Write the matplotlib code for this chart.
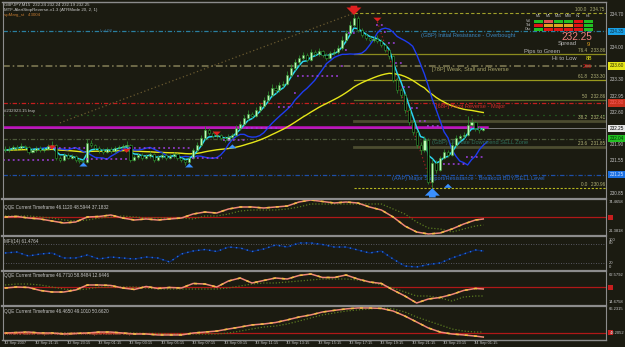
import numpy as np
import matplotlib
matplotlib.use('Agg')
import matplotlib.pyplot as plt
from matplotlib.patches import Rectangle
from matplotlib.lines import Line2D
import matplotlib.transforms as mtrans

# ---------------- data ----------------
first_open = 231.80
closes = [231.78, 231.81, 231.85, 231.83, 231.87, 231.85, 231.74, 231.78, 231.83, 231.78,
          231.81, 231.87, 231.89, 231.61, 231.57, 231.68, 231.61, 231.65, 231.57, 231.55,
          231.53, 231.94, 231.89, 231.83, 231.78, 231.74, 231.81, 231.76, 231.83, 231.85,
          231.87, 231.89, 231.57, 231.63, 231.68, 231.61, 231.65, 231.70, 231.57, 231.63,
          231.68, 231.61, 231.65, 231.70, 231.61, 231.57, 231.53, 231.61, 231.78, 231.89,
          232.04, 232.22, 232.15, 232.09, 232.11, 232.04, 232.00, 232.07, 232.11, 232.26,
          232.35, 232.48, 232.56, 232.52, 232.65, 232.73, 232.86, 232.97, 233.12, 233.08,
          233.19, 233.21, 233.40, 233.56, 233.68, 233.77, 233.84, 233.73, 233.90, 233.86,
          233.92, 233.84, 233.77, 233.88, 233.90, 233.99, 234.16, 234.31, 234.48, 234.64,
          234.38, 234.27, 234.20, 234.16, 234.18, 234.14, 234.05, 233.94, 233.81, 233.30,
          233.08, 232.97, 232.65, 232.39, 232.17, 231.89, 231.78, 232.00, 231.10, 231.50,
          231.35, 231.61, 231.74, 231.68, 231.89, 232.04, 232.09, 232.11, 232.32, 232.39,
          232.26, 232.22, 232.25]
highs = [231.86, 231.88, 231.90, 231.89, 231.93, 231.90, 231.88, 231.82, 231.88, 231.86,
         231.85, 231.92, 231.98, 231.92, 231.66, 231.72, 231.71, 231.69, 231.68, 231.61,
         231.60, 232.02, 231.99, 231.92, 231.86, 231.82, 231.85, 231.84, 231.88, 231.90,
         231.92, 231.97, 231.91, 231.68, 231.73, 231.71, 231.70, 231.76, 231.73, 231.67,
         231.74, 231.71, 231.69, 231.75, 231.72, 231.64, 231.60, 231.66, 231.83, 231.95,
         232.10, 232.30, 232.27, 232.19, 232.18, 232.14, 232.08, 232.12, 232.15, 232.32,
         232.42, 232.55, 232.64, 232.61, 232.72, 232.80, 232.93, 233.05, 233.20, 233.18,
         233.26, 233.28, 233.48, 233.64, 233.76, 233.84, 233.91, 233.88, 233.96, 233.95,
         233.98, 233.95, 233.87, 233.93, 233.96, 234.06, 234.24, 234.38, 234.56, 234.75,
         234.67, 234.42, 234.31, 234.25, 234.24, 234.26, 234.18, 234.08, 233.97, 233.84,
         233.35, 233.13, 233.01, 232.70, 232.44, 232.22, 231.95, 232.08, 232.04, 231.58,
         231.56, 231.66, 231.80, 231.78, 231.95, 232.10, 232.14, 232.17, 232.52, 232.47,
         232.42, 232.30, 232.26]
lows = [231.74, 231.75, 231.78, 231.79, 231.80, 231.80, 231.70, 231.71, 231.75, 231.74,
        231.75, 231.78, 231.84, 231.57, 231.52, 231.55, 231.58, 231.58, 231.53, 231.50,
        231.46, 231.51, 231.84, 231.79, 231.72, 231.69, 231.71, 231.72, 231.73, 231.80,
        231.82, 231.84, 231.52, 231.54, 231.60, 231.57, 231.58, 231.62, 231.52, 231.54,
        231.60, 231.57, 231.58, 231.62, 231.56, 231.52, 231.47, 231.49, 231.59, 231.75,
        231.86, 232.01, 232.10, 232.04, 232.05, 232.00, 231.95, 231.97, 232.02, 232.08,
        232.22, 232.31, 232.44, 232.47, 232.49, 232.61, 232.70, 232.82, 232.93, 233.02,
        233.04, 233.14, 233.18, 233.36, 233.52, 233.63, 233.72, 233.68, 233.70, 233.81,
        233.82, 233.79, 233.72, 233.74, 233.84, 233.86, 233.95, 234.12, 234.27, 234.44,
        234.33, 234.22, 234.15, 234.11, 234.12, 234.09, 234.00, 233.89, 233.76, 233.25,
        233.02, 232.90, 232.58, 232.32, 232.10, 231.82, 231.70, 231.74, 231.05, 230.96,
        231.28, 231.32, 231.58, 231.63, 231.65, 231.85, 232.00, 232.04, 232.08, 232.28,
        232.20, 232.16, 232.19]

# stop-and-reverse (purple dotted) segments: start bar, end bar, price
sar_start = [0, 13, 21, 32, 48, 56, 62, 70, 74, 75, 86, 87, 88, 95, 97, 98, 100, 102, 104, 106, 108, 112, 118]
sar_end = [12, 20, 31, 47, 55, 61, 69, 73, 74, 85, 86, 87, 89, 96, 97, 99, 101, 103, 105, 107, 111, 117, 122]
sar_price = [231.57, 231.83, 231.60, 231.83, 231.62, 232.00, 232.25, 232.71, 233.01, 233.38, 233.60,
             233.94, 234.31, 234.48, 234.33, 234.10, 233.67, 233.14, 232.70, 232.40, 232.30, 231.48, 231.63]

# horizontal levels
level_prices = [234.35, 233.60, 232.80, 232.55, 232.03, 231.25]
level_colors = ['#2a7fa0', '#6e6a48', '#c41e1e', '#2a8a2a', '#4d5a3a', '#1e4fa8']
level_labels = ['(GBP) Initial Resistance - Overbought', '[78P] Weak, Stall and Reverse',
                '[68P] Pivot Reverse - Major', '', '(GBP) Ultimate Downtrend SELL Zone',
                '(AAP) Major Support/Resistance - Breakout BUY/SELL Level']
level_label_bars = [106.0, 109.0, 110.0, 0, 109.0, 98.8]
level_label_colors = ['#3a86c0', '#a8a46a', '#d42a2a', '', '#2f6e5a', '#2a6ad0']
magenta_price = 232.28
bid_price = 232.25

fib_low, fib_high = 230.96, 234.75
fib_pcts = [0.0, 23.6, 38.2, 50.0, 61.8, 76.4, 100.0]
fib_start_bar = 89

trend1_bars, trend1_prices = [14, 89], [232.37, 234.74]
trend2_bars, trend2_prices = [95, 109], [234.55, 230.98]

arrow_bars = [12, 31, 54, 89, 95, 20, 47, 58, 109, 113]
arrow_prices = [231.83, 231.76, 232.13, 234.80, 234.59, 231.48, 231.46, 231.87, 230.86, 231.02]
arrow_dirs = [-1, -1, -1, -1, -1, 1, 1, 1, 1, 1]
arrow_big = [0, 0, 0, 1, 0, 0, 0, 0, 1, 0]

price_ticks = [234.70, 234.00, 233.30, 232.95, 232.60, 231.90, 231.55, 230.85]
box_prices = [234.35, 233.60, 232.80, 232.25, 232.04, 231.25]
box_texts = ['234.35', '233.60', '232.80', '232.25', '232.04', '231.25']
box_face = ['#19a0e6', '#e6e619', '#c8321e', '#e6e6e6', '#22c022', '#1a6fe0']
box_txt = ['#103040', '#303000', '#ff6060', '#000000', '#003000', '#d0e0ff']

# indicator samples (every 3rd bar)
qbars = list(range(0, 121, 3)) + [122]
qqe1 = [50.0, 50.9, 48.3, 46.6, 43.2, 39.8, 41.5, 50.0, 50.9, 53.4, 48.3, 44.9, 46.6, 44.9,
        46.6, 48.3, 55.1, 58.5, 56.8, 63.6, 67.0, 67.0, 65.3, 67.0, 68.7, 75.5, 78.9, 76.4,
        73.8, 75.5, 73.8, 67.0, 61.9, 50.0, 34.7, 24.5, 21.1, 22.8, 29.6, 38.1, 44.9, 46.6]
qqe1_trail = [51.7, 51.7, 51.7, 50.0, 48.3, 44.9, 43.2, 44.9, 48.3, 50.0, 51.7, 50.0, 48.3,
              48.3, 48.3, 48.3, 46.6, 51.7, 51.7, 55.1, 60.2, 61.9, 61.9, 61.9, 63.6, 67.0,
              72.1, 72.1, 72.1, 72.1, 72.1, 72.1, 72.1, 63.6, 55.1, 41.5, 31.3, 29.6, 24.5,
              29.6, 34.7, 36.4]
mfi = [51.6, 54.7, 42.1, 48.4, 51.6, 35.8, 35.8, 45.3, 32.6, 38.9, 35.8, 32.6, 38.9, 35.8,
       23.2, 48.4, 57.9, 62.6, 56.3, 70.5, 67.4, 56.3, 64.2, 76.8, 70.5, 83.2, 83.2, 78.4,
       70.5, 70.5, 61.1, 51.6, 57.9, 32.6, 10.5, 7.4, 15.3, 20.0, 35.8, 48.4, 61.1, 57.9]
qqe2 = [48.5, 50.0, 49.3, 44.8, 42.5, 42.5, 45.5, 53.0, 53.0, 52.3, 48.5, 46.3, 50.8, 47.8,
        49.3, 48.5, 55.3, 54.5, 50.0, 59.0, 63.5, 56.0, 59.8, 63.5, 62.0, 67.3, 69.5, 64.3,
        64.3, 68.0, 62.0, 57.5, 55.3, 45.5, 36.5, 26.0, 32.0, 34.3, 38.8, 44.8, 47.8, 47.0]
qqe2_trail = [53.0, 54.5, 54.5, 53.0, 50.0, 47.0, 45.5, 47.0, 50.0, 50.0, 50.0, 50.0, 48.5,
              47.0, 47.0, 47.0, 47.0, 47.0, 47.0, 48.5, 51.5, 54.5, 56.0, 56.0, 57.5, 59.0,
              60.5, 62.0, 62.0, 62.0, 60.5, 57.5, 53.0, 48.5, 42.5, 36.5, 36.5, 33.5, 29.0,
              35.0, 36.5, 36.5]
qqe3 = [50.0, 50.3, 50.6, 50.0, 50.0, 49.4, 49.7, 50.0, 50.6, 50.6, 50.0, 49.4, 49.4, 48.8,
        48.8, 48.8, 50.0, 50.6, 51.2, 52.5, 53.7, 55.0, 55.6, 56.5, 58.1, 59.9, 61.2, 63.0,
        64.0, 64.9, 65.5, 65.5, 65.2, 63.6, 60.5, 56.8, 53.1, 50.6, 49.4, 48.8, 48.1, 47.5]
qqe3_trail = [50.3, 50.3, 50.0, 50.0, 50.0, 50.0, 50.0, 50.0, 50.3, 50.3, 50.0, 50.0, 49.7,
              49.7, 49.4, 49.4, 49.4, 49.4, 49.4, 50.0, 51.2, 52.5, 53.7, 54.3, 55.6, 57.4,
              59.3, 61.2, 62.4, 63.6, 64.3, 64.9, 65.5, 64.9, 63.0, 59.9, 57.4, 55.0, 52.5,
              51.2, 50.6, 50.6]

date_labels = ['12 Sep 2007', '12 Sep 21:15', '12 Sep 23:15', '13 Sep 01:15', '13 Sep 03:15',
               '13 Sep 05:15', '13 Sep 07:15', '13 Sep 09:15', '13 Sep 11:15', '13 Sep 13:15',
               '13 Sep 15:15', '13 Sep 17:15', '13 Sep 19:15', '13 Sep 21:15', '13 Sep 23:15',
               '14 Sep 01:15']
date_label_bars = list(range(0, 121, 8))

tf_names = ['M1', 'M5', 'M15', 'M30', 'H1', 'H4']
row_names = ['Vol', 'Trd', 'Osc']
grid_colors = [['#22c022', '#e05050', '#22c022', '#22c022', '#e01414', '#22c022'],
               ['#e01414', '#e0a020', '#e0a020', '#e0a020', '#e01414', '#22c022'],
               ['#22c022', '#e01414', '#e01414', '#e01414', '#e01414', '#22c022']]

# ---------------- helpers ----------------
W, H = 625, 347
BG = '#1b1b11'
FONT = 'Liberation Sans'
plt.rcParams['font.family'] = [FONT, 'DejaVu Sans']

fig = plt.figure(figsize=(W / 100, H / 100), dpi=100)
fig.patch.set_facecolor(BG)

XL = (-0.51, 153.3)


def add_ax(y0, y1, ylim):
    ax = fig.add_axes([3 / W, 1 - y1 / H, (606 - 3) / W, (y1 - y0) / H])
    ax.set_facecolor(BG)
    ax.set_xticks([]); ax.set_yticks([])
    for s in ax.spines.values():
        s.set_visible(False)
    ax.set_xlim(*XL)
    ax.set_ylim(*ylim)
    return ax


def ftext(x, y, s, color='#c8c8c8', size=3.3, ha='left', va='center', **kw):
    fig.text(x / W, 1 - y / H, s, color=color, fontsize=size, ha=ha, va=va, **kw)


def frect(x0, y0, w, h, color, **kw):
    fig.patches.append(Rectangle((x0 / W, 1 - (y0 + h) / H), w / W, h / H,
                                 transform=fig.transFigure, facecolor=color,
                                 edgecolor='none', **kw))


def fline(x0, y0, x1, y1, color='#8c8c8c', lw=1.0):
    fig.lines.append(Line2D([x0 / W, x1 / W], [1 - y0 / H, 1 - y1 / H],
                            transform=fig.transFigure, color=color, lw=lw))


def ema(vals, n):
    a = 2.0 / (n + 1)
    out = [vals[0]]
    for v in vals[1:]:
        out.append(out[-1] + a * (v - out[-1]))
    return np.array(out)


def sma(vals, n):
    v = np.array(vals)
    return np.array([v[max(0, i - n + 1):i + 1].mean() for i in range(len(v))])


DD = (0, (3.5, 1.5, 0.8, 1.5))

# ---------------- main chart ----------------
ax = add_ax(3, 197, (230.769, 234.959))
n = len(closes)
bars = np.arange(n)
opens = [first_open] + closes[:-1]

for p, c, lab, lb, lc in zip(level_prices, level_colors, level_labels, level_label_bars, level_label_colors):
    if lab == '':
        ax.axhline(p, color=c, lw=0.9, ls=(0, (0.8, 4)))
    else:
        ax.axhline(p, color=c, lw=0.9 if p != 233.60 else 1.4, ls=DD)
        ax.text(lb, p - 0.03, lab, color=lc, fontsize=4.1, va='top', ha='left')

ax.axhline(bid_price, color='#8a8a8a', lw=0.6)
ax.plot([-0.5, 123], [magenta_price, magenta_price], color='#c010c0', lw=1.8)

fib_styles = {0.0: ('#b8b820', 0.8, (0, (2, 1.5))), 23.6: ('#4c4c30', 2.0, '-'),
              38.2: ('#4c4c30', 2.0, '-'), 50.0: ('#5c6a28', 0.9, '-'),
              61.8: ('#9a9a1e', 0.9, '-'), 76.4: ('#8c8c1e', 0.9, '-'),
              100.0: ('#a0a02a', 0.8, (0, (3, 2)))}
for f in fib_pcts:
    p = fib_low + (fib_high - fib_low) * f / 100.0
    c, lw, ls = fib_styles[f]
    ax.plot([fib_start_bar, XL[1]], [p, p], color=c, lw=lw, ls=ls)
    lab = ('%g' % f if f not in (0.0, 100.0) else '%.1f' % f) + '   %.2f' % p
    ax.text(XL[1] - 0.3, p + 0.02, lab, color='#b4b478', fontsize=3.3, ha='right', va='bottom')

ax.plot(trend1_bars, trend1_prices, color='#6a5a30', lw=0.9, ls=(0, (1, 2)))
ax.plot(trend2_bars, trend2_prices, color='#a02020', lw=0.9, ls=(0, (1, 2)))

# stop and reverse dots
for s, e, p in zip(sar_start, sar_end, sar_price):
    ax.plot([s - 0.4, e + 0.4], [p, p], color='#a040e0', lw=1.1, ls=(0, (1.2, 2.0)), zorder=6)

# moving averages
ema_slow = ema(closes, 49)
ax.plot(bars, ema_slow, color='#e6e619', lw=1.0)
blue = sma(closes, 5)
ax.plot(bars[:n - 5] + 6, blue[:n - 5], color='#1e3cf0', lw=1.0)
cyan = ema(closes, 4)
ax.plot(bars, cyan, color='#2ad4f0', lw=1.1)

# candles
ax.vlines(bars, lows, highs, color='#2c862c', lw=0.6, zorder=4)
for i in range(n):
    o, c = opens[i], closes[i]
    bull = c >= o
    lo, hi = min(o, c), max(o, c)
    ax.add_patch(Rectangle((i - 0.27, lo), 0.54, max(hi - lo, 0.008),
                           facecolor='#c0f8b8' if bull else '#000000',
                           edgecolor='#339933', lw=0.4, zorder=5))

# arrows
for b, p, d, big in zip(arrow_bars, arrow_prices, arrow_dirs, arrow_big):
    L = 0.32 if big else 0.19
    col = '#e02020' if d < 0 else '#3a90ff'
    tip = p + d * L / 2
    tail = p - d * L / 2
    ax.annotate('', xy=(b, tip), xytext=(b, tail),
                arrowprops=dict(arrowstyle='simple,head_length=0.45,head_width=0.9,tail_width=0.4',
                                color=col, lw=0, mutation_scale=12 if big else 6.5), zorder=7)

tr = mtrans.blended_transform_factory(ax.transAxes, ax.transData)
for p in price_ticks:
    ax.text(1.006, p, '%.2f' % p, transform=tr, color='#c0c0c0', fontsize=3.3, va='center', ha='left',
            clip_on=False)
for p, t, fc, tc in zip(box_prices, box_texts, box_face, box_txt):
    ax.text(1.006, p, t, transform=tr, color=tc, fontsize=3.3, va='center', ha='left', clip_on=False,
            bbox=dict(boxstyle='square,pad=0.25', facecolor=fc, edgecolor='none'))

# ---------------- sub panels ----------------
def qqe_panel(y0, y1, ylim, line, trail):
    a = add_ax(y0, y1, ylim)
    a.axhline(50, color='#b01818', lw=0.9)
    a.plot(qbars, trail, color='#5a7a20', lw=0.9, ls=(0, (1, 1.5)))
    a.plot(qbars, line, color='#f08878', lw=1.1)
    a.plot(qbars, line, color='#f0c040', lw=1.1, ls=(0, (2, 4)))
    return a

qqe_panel(200, 235, (19.4, 78.9), qqe1, qqe1_trail)
am = add_ax(237, 270, (-2.1, 102.1))
for lv in (80, 20):
    am.axhline(lv, color='#6a6a7a', lw=0.6, ls=(0, (1, 2)))
am.plot(qbars, mfi, color='#0c2460', lw=1.0)
am.plot(qbars, mfi, color='#2070e8', lw=1.0, ls=(0, (1, 3)))
qqe_panel(272, 305, (23.0, 72.5), qqe2, qqe2_trail)
qqe_panel(306, 339, (46.3, 66.7), qqe3, qqe3_trail)

for yy in (198.5, 236, 271, 305.5):
    fline(2, yy, 606, yy, '#8c8c8c', 1.6)
fline(2, 339.5, 606, 339.5, '#8c8c8c', 1.0)
fline(2, 2, 606, 2, '#8c8c8c', 1.0)
fline(2.5, 2, 2.5, 339.5, '#8c8c8c', 0.8)
fline(606, 2, 606, 339.5, '#8c8c8c', 0.8)

ftext(609, 202, '74.4658', size=3.0)
ftext(609, 231, '21.3818', size=3.0)
frect(608, 214.5, 5, 5, '#c81e1e')
ftext(609, 240, '100', size=3.0)
ftext(609, 243.5, '80', size=3.0)
ftext(609, 263, '20', size=3.0)
ftext(609, 267, '0', size=3.0)
ftext(609, 275, '62.5792', size=3.0)
frect(608, 284.5, 5, 5, '#c81e1e')
ftext(609, 302, '14.6758', size=3.0)
ftext(609, 308.5, '66.2315', size=3.0)
frect(608, 329.5, 5, 5, '#c81e1e')
ftext(610, 333, '48.2052', size=3.0)

ftext(4, 5, 'GBPJPY,M15  232.24 232.24 232.19 232.25', size=3.2)
ftext(4, 10, 'MTF-AlertStopReverse-v1.3 (ATRMode 20, 2, 1)', size=3.2)
ftext(4, 15, 'spMarg_st   43004', color='#c07830', size=3.2)
ftext(100, 31, 'Lvl 0ff', color='#3a6a8a', size=3.2)
ftext(4, 111, '#232923.15 buy', size=3.2)
ftext(4, 207, 'QQE Current Timeframe 46.1120 48.5944 37.1832', size=3.3)
ftext(4, 242, 'MFI(14) 61.4764', size=3.3)
ftext(4, 276, 'QQE Current Timeframe 46.7710 58.8484 12.6446', size=3.3)
ftext(4, 311, 'QQE Current Timeframe 46.4650 49.1010 50.6620', size=3.3)
ftext(4, 334, 'TFX MT4 Master Template v1.4  (c)2007  TFX Capital Reference Corp.', color='#e07050', size=3.0)

for j, t in enumerate(tf_names):
    ftext(538 + 10 * j, 16, t, size=2.6, ha='center')
for r, nm in enumerate(row_names):
    ftext(531, 21.5 + 4 * r, nm, size=2.6, ha='right')
    for j in range(6):
        frect(534 + 10 * j, 20 + 4 * r, 8.5, 3.2, grid_colors[r][j])
ftext(592, 37, '232.25', color='#f08080', size=7.2, ha='right')
ftext(577, 44, 'Spread', color='#b8b8b8', size=4.2, ha='right')
ftext(590, 44, '9', color='#e0a020', size=4.2, ha='right')
ftext(560, 52, 'Pips to Green', color='#b8b8b8', size=4.2, ha='right')
ftext(577, 59, 'Hi to Low', color='#b8b8b8', size=4.2, ha='right')
ftext(592, 59, '88', color='#e6e619', size=4.2, ha='right')
ftext(592, 66, '266', color='#e02020', size=4.0, ha='right')

for b, lab in zip(date_label_bars, date_labels):
    xpx = 3 + (b - XL[0]) / (XL[1] - XL[0]) * 603
    ftext(xpx - 1, 343, lab, size=2.8)
    fline(xpx, 339.5, xpx, 341.5, '#8c8c8c', 0.6)

fig.savefig('out.png', dpi=100, facecolor=BG)
